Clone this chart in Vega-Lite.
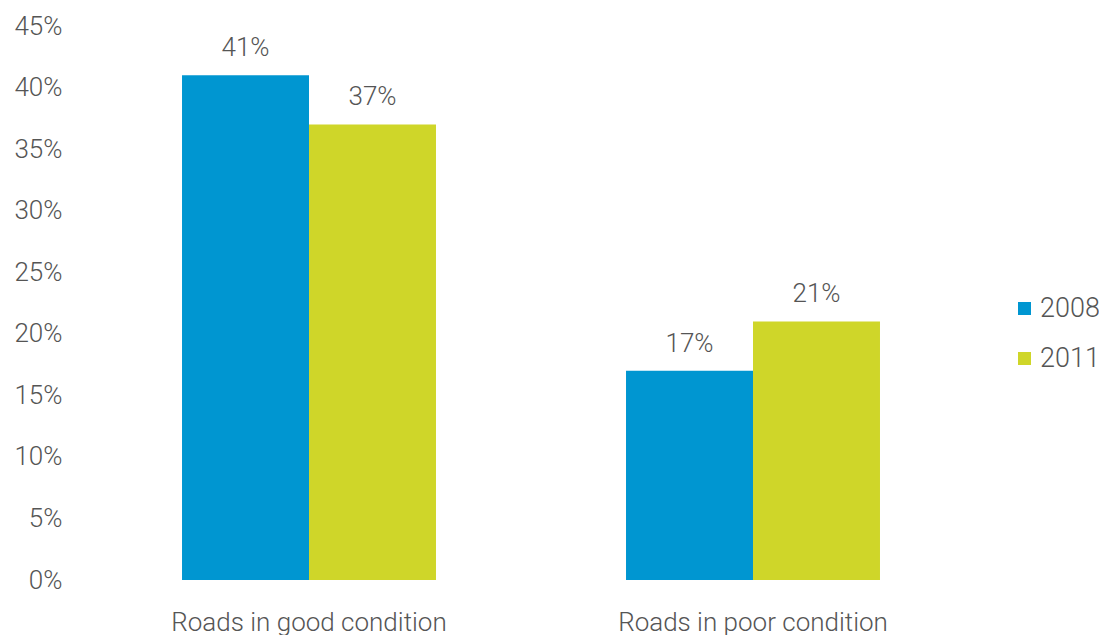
{
  "$schema": "https://vega.github.io/schema/vega-lite/v6.json",
  "autosize": {"type": "none"},
  "padding": {"left": 87, "top": 26, "right": 124, "bottom": 55},
  "width": 888,
  "height": 554,
  "background": "white",
  "config": {
    "view": {"stroke": null},
    "font": "Roboto",
    "text": {"font": "Roboto"}
  },
  "data": {
    "values": [
      {"category": "Roads in good condition", "year": "2008", "value": 0.41},
      {"category": "Roads in good condition", "year": "2011", "value": 0.37},
      {"category": "Roads in poor condition", "year": "2008", "value": 0.17},
      {"category": "Roads in poor condition", "year": "2011", "value": 0.21}
    ]
  },
  "encoding": {
    "x": {
      "field": "category",
      "type": "nominal",
      "scale": {"paddingInner": 0.428, "paddingOuter": 0.214},
      "axis": {
        "title": null,
        "labelAngle": 0,
        "domain": false,
        "ticks": false,
        "labelLimit": 0,
        "labelPadding": 29,
        "labelFont": "Roboto",
        "labelFontWeight": 300,
        "labelFontSize": 26,
        "labelColor": "#555555"
      }
    },
    "xOffset": {"field": "year", "type": "nominal", "scale": {"paddingInner": 0, "paddingOuter": 0}},
    "y": {
      "field": "value",
      "type": "quantitative",
      "scale": {"domain": [0, 0.45], "nice": false},
      "axis": {
        "title": null,
        "format": ".0%",
        "values": [0, 0.05, 0.1, 0.15, 0.2, 0.25, 0.3, 0.35, 0.4, 0.45],
        "grid": false,
        "domain": false,
        "ticks": false,
        "labelPadding": 25,
        "labelFont": "Roboto",
        "labelFontWeight": 300,
        "labelFontSize": 26,
        "labelColor": "#555555"
      }
    }
  },
  "layer": [
    {
      "mark": {"type": "bar"},
      "encoding": {
        "color": {
          "field": "year",
          "type": "nominal",
          "scale": {"domain": ["2008", "2011"], "range": ["#0096D1", "#CFD629"]},
          "legend": {
            "title": null,
            "orient": "none",
            "legendX": 924,
            "legendY": 269,
            "padding": 0,
            "symbolType": "square",
            "symbolSize": 169,
            "symbolStrokeWidth": 0,
            "labelOffset": 2,
            "labelLimit": 0,
            "rowPadding": 22,
            "labelFont": "Roboto",
            "labelFontWeight": 300,
            "labelFontSize": 27,
            "labelColor": "#555555"
          }
        }
      }
    },
    {
      "mark": {"type": "text", "baseline": "bottom", "dy": -14, "font": "Roboto", "fontWeight": 300, "fontSize": 26, "color": "#555555"},
      "encoding": {
        "text": {"field": "value", "type": "quantitative", "format": ".0%"}
      }
    }
  ]
}
